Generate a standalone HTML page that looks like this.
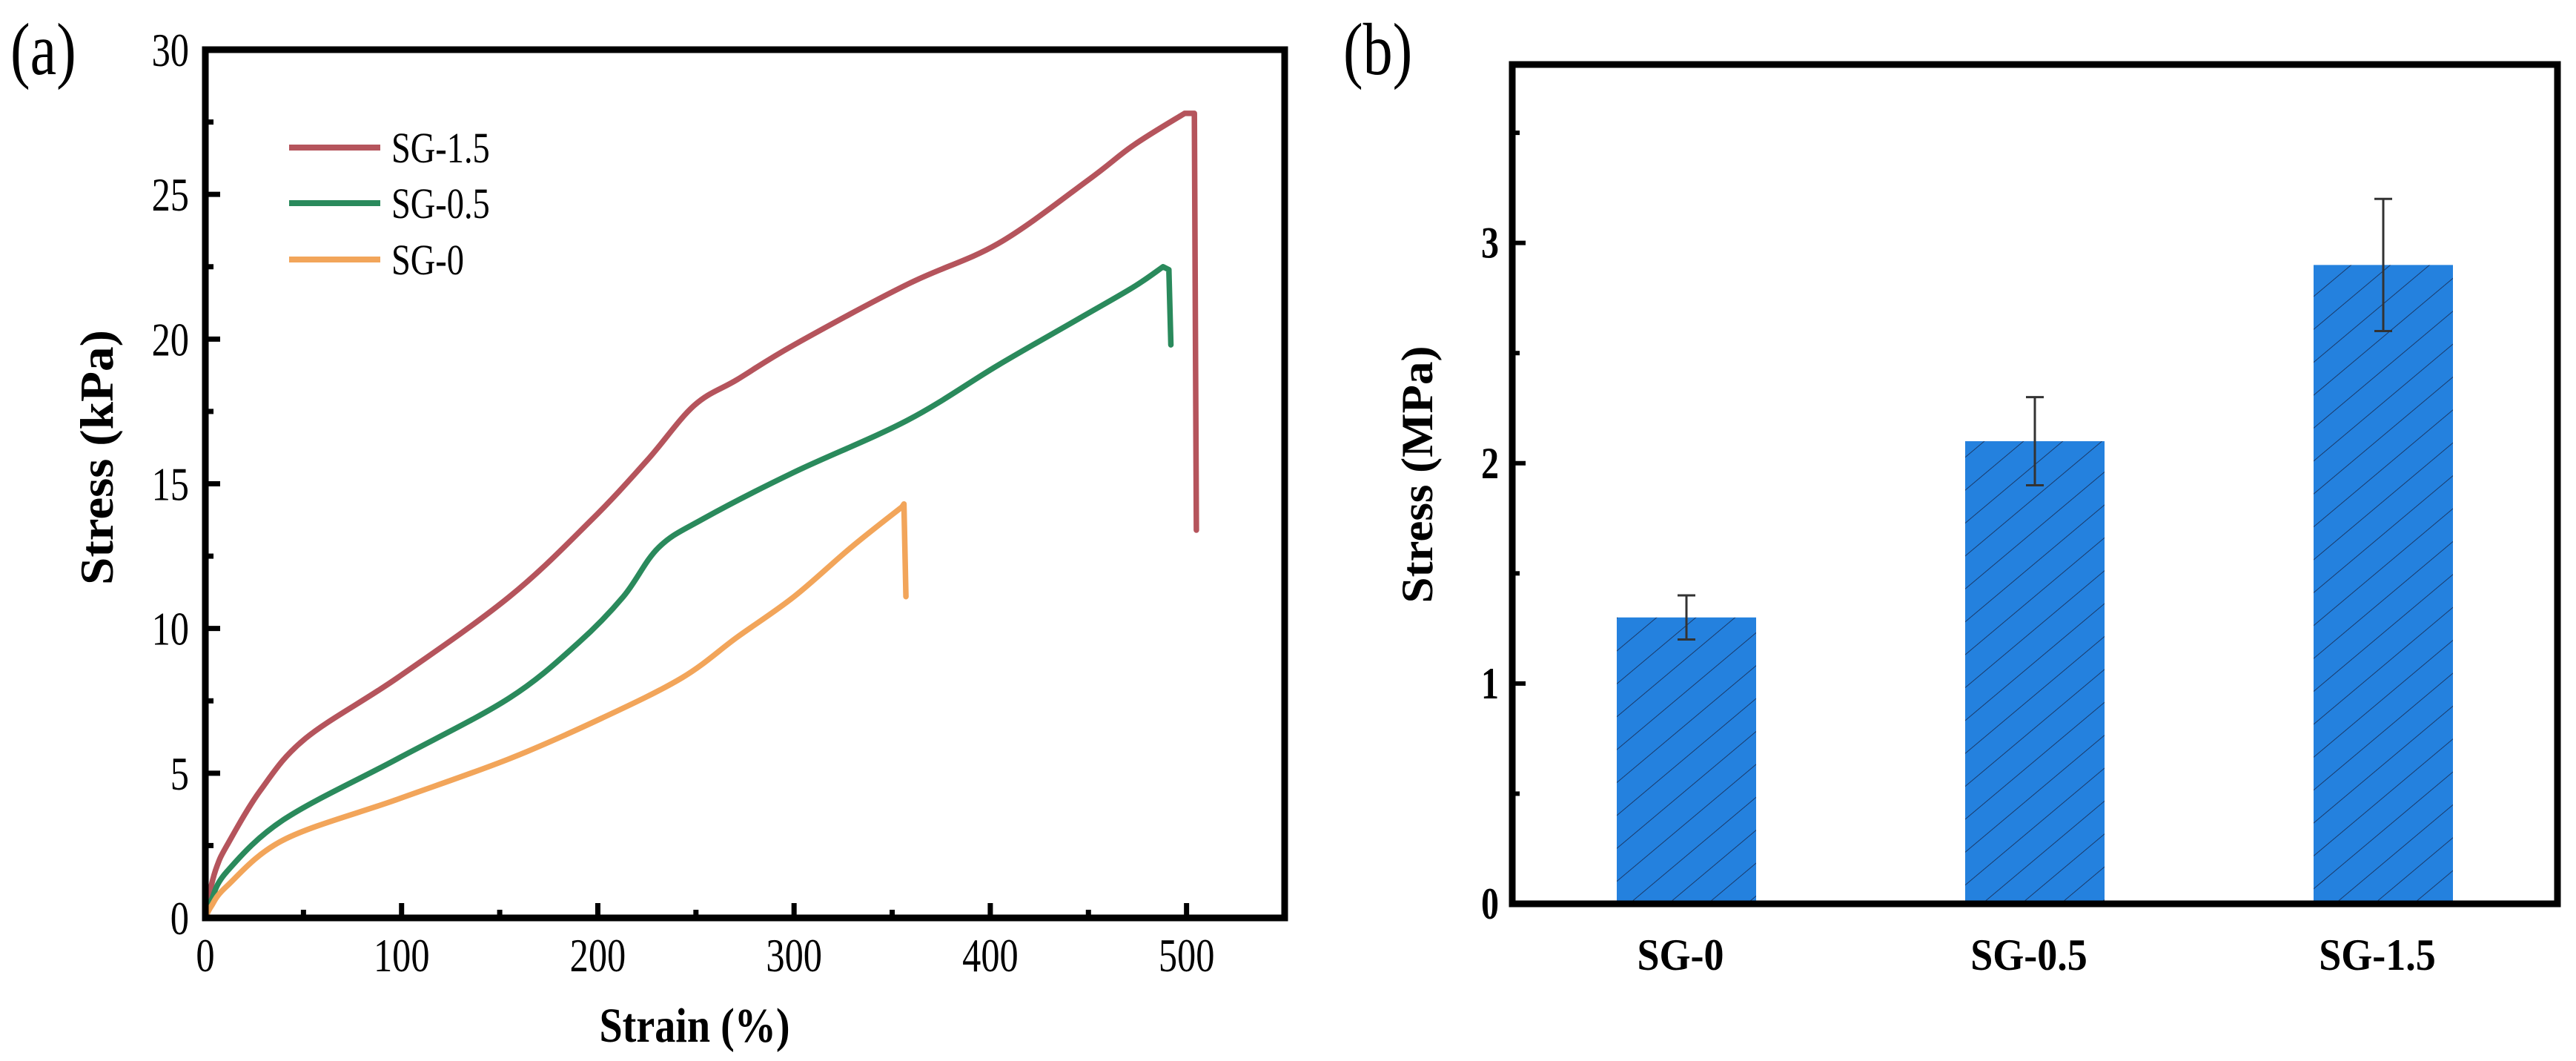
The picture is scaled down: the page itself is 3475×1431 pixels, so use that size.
<!DOCTYPE html>
<html><head><meta charset="utf-8">
<style>
html,body{margin:0;padding:0;background:#fff;}
svg{display:block;font-family:"Liberation Serif",serif;}
</style></head>
<body>
<svg id="fig" width="3475" height="1431" viewBox="0 0 3475 1431" xmlns="http://www.w3.org/2000/svg">
<defs>
<pattern id="hatch" patternUnits="userSpaceOnUse" width="34" height="34" patternTransform="rotate(-40)">
<rect width="34" height="34" fill="#2481de"/>
<line x1="0" y1="0" x2="34" y2="0" stroke="#1a3a6a" stroke-width="2"/>
</pattern>
</defs>
<g id="panelA"></g>
<g id="panelB"></g>
</svg>
<script>
// ---------- Panel (a) data ----------
const strain15 = [0, 3, 6, 11, 28, 51, 98, 155, 196, 225, 249, 271, 300, 358, 404, 450, 473, 499, 504, 505];
const stress15 = [0, 1.1, 1.8, 2.5, 4.4, 6.2, 8.3, 11.1, 13.7, 15.8, 17.7, 18.6, 19.8, 21.9, 23.3, 25.5, 26.7, 27.8, 27.8, 13.4];
const strain05 = [0, 3, 11, 40, 98, 155, 190, 213, 231, 254, 300, 358, 404, 445, 473, 488, 491, 492];
const stress05 = [0, 0.6, 1.6, 3.4, 5.5, 7.6, 9.5, 11.1, 12.8, 13.8, 15.4, 17.2, 19.1, 20.7, 21.8, 22.5, 22.4, 19.8];
const strain0 = [0, 3, 11, 40, 98, 155, 202, 243, 271, 300, 329, 355, 356, 357];
const stress0 = [0, 0.4, 1.1, 2.7, 4.1, 5.5, 6.9, 8.3, 9.7, 11.1, 12.8, 14.2, 14.3, 11.1];
const seriesNames = ["SG-1.5", "SG-0.5", "SG-0"];
const xTicksA = [0, 100, 200, 300, 400, 500];
const yTicksA = [0, 5, 10, 15, 20, 25, 30];
// ---------- Panel (b) data ----------
const categories = ["SG-0", "SG-0.5", "SG-1.5"];
const barValues = [1.3, 2.1, 2.9];
const errLow = [1.2, 1.9, 2.6];
const errHigh = [1.4, 2.3, 3.2];
const yTicksB = [0, 1, 2, 3];

const NS = "http://www.w3.org/2000/svg";
function mk(parent, tag, attrs) {
  const e = document.createElementNS(NS, tag);
  for (const k in attrs) e.setAttribute(k, attrs[k]);
  parent.appendChild(e);
  return e;
}
function txt(parent, x, y, s, size, weight, anchor, sx, rot) {
  const g = mk(parent, "g", {transform: `translate(${x},${y})` + (rot ? ` rotate(${rot})` : "") + ` scale(${sx},1)`});
  const t = mk(g, "text", {x: 0, y: 0, "font-size": size, "font-weight": weight, "text-anchor": anchor, fill: "#000"});
  t.textContent = s;
  return t;
}

// ---------- Panel (a) ----------
const A = document.getElementById("panelA");
const ax = {x0: 277, x1: 1733, y0: 1238, y1: 67, xmax: 550, ymax: 30};
const xa = v => ax.x0 + (ax.x1 - ax.x0) * v / ax.xmax;
const ya = v => ax.y0 - (ax.y0 - ax.y1) * v / ax.ymax;

function smoothPath(pts, nSharpEnd) {
  // Catmull-Rom for all but last nSharpEnd segments
  const n = pts.length;
  const smoothEnd = n - 1 - nSharpEnd;
  let d = "M" + pts[0][0].toFixed(1) + "," + pts[0][1].toFixed(1);
  for (let i = 0; i < n - 1; i++) {
    if (i >= smoothEnd) { d += "L" + pts[i + 1][0].toFixed(1) + "," + pts[i + 1][1].toFixed(1); continue; }
    const p0 = pts[Math.max(i - 1, 0)], p1 = pts[i], p2 = pts[i + 1], p3 = pts[Math.min(i + 2, smoothEnd)];
    const c1x = p1[0] + (p2[0] - p0[0]) / 6, c1y = p1[1] + (p2[1] - p0[1]) / 6;
    const c2x = p2[0] - (p3[0] - p1[0]) / 6, c2y = p2[1] - (p3[1] - p1[1]) / 6;
    d += `C${c1x.toFixed(1)},${c1y.toFixed(1)} ${c2x.toFixed(1)},${c2y.toFixed(1)} ${p2[0].toFixed(1)},${p2[1].toFixed(1)}`;
  }
  return d;
}

const colors = ["#b5545c", "#2a8a5c", "#f2a55a"];
const xsArr = [strain15, strain05, strain0];
const ysArr = [stress15, stress05, stress0];
const sharp = [2, 2, 2];
for (let s = 0; s < 3; s++) {
  const xs = xsArr[s], ys = ysArr[s];
  const pts = xs.map((x, i) => [xa(x), ya(ys[i])]);
  const p = mk(A, "path", {d: smoothPath(pts, sharp[s]), fill: "none", stroke: colors[s], "stroke-width": 7.5, "stroke-linejoin": "round", "stroke-linecap": "round"});
  
  
}
// frame
const frA = mk(A, "rect", {x: ax.x0, y: ax.y1, width: ax.x1 - ax.x0, height: ax.y0 - ax.y1, fill: "none", stroke: "#000", "stroke-width": 9});


for (let v = 0; v <= 550; v += 50) {
  const major = v % 100 === 0;
  const t = mk(A, "line", {x1: xa(v), x2: xa(v), y1: ax.y0, y2: ax.y0 - (major ? 20 : 11), stroke: "#000", "stroke-width": 7});
  
  
}
xTicksA.forEach(v => {
  const t = txt(A, xa(v), 1310, String(v), 63, "normal", "middle", 0.8, 0);
  
  
});
for (let v = 0; v <= 30; v += 2.5) {
  const major = v % 5 === 0;
  const t = mk(A, "line", {x1: ax.x0, x2: ax.x0 + (major ? 20 : 11), y1: ya(v), y2: ya(v), stroke: "#000", "stroke-width": 7});
  
  
}
yTicksA.forEach(v => {
  const t = txt(A, 255, ya(v) + 22, String(v), 63, "normal", "end", 0.8, 0);
  
  
});
const xtA = txt(A, 937, 1405, "Strain (%)", 66, "bold", "middle", 0.85, 0);


const ytA = txt(A, 152, 617, "Stress (kPa)", 64, "bold", "middle", 1.05, -90);


const legY = [199, 274, 350];
for (let s = 0; s < 3; s++) {
  const l = mk(A, "line", {x1: 390, x2: 513, y1: legY[s], y2: legY[s], stroke: colors[s], "stroke-width": 8});
  
  
  const t = txt(A, 528, legY[s] + 20, seriesNames[s], 58, "normal", "start", 0.8, 0);
  
  
}
const pa = txt(A, 14, 100, "(a)", 100, "normal", "start", 0.8, 0);



// ---------- Panel (b) ----------
const B = document.getElementById("panelB");
const bx = {x0: 2040, x1: 3450, y0: 1219, y1: 87, xmin: 0.5, xmax: 3.5, ymax: 3.81};
const xb = v => bx.x0 + (bx.x1 - bx.x0) * (v - bx.xmin) / (bx.xmax - bx.xmin);
const yb = v => bx.y0 - (bx.y0 - bx.y1) * v / bx.ymax;
const bw = 0.4;
categories.forEach((c, i) => {
  const cx = i + 1;
  const r = mk(B, "rect", {x: xb(cx - bw / 2), y: yb(barValues[i]), width: xb(cx + bw / 2) - xb(cx - bw / 2), height: yb(0) - yb(barValues[i]), fill: "url(#hatch)"});
  
  
  const e = mk(B, "path", {d: `M${xb(cx)},${yb(errLow[i])}V${yb(errHigh[i])}M${xb(cx) - 12},${yb(errLow[i])}h24M${xb(cx) - 12},${yb(errHigh[i])}h24`, stroke: "#333", "stroke-width": 3, fill: "none"});
  
  
  const t = txt(B, xb(cx) - 8, 1308, c, 60, "bold", "middle", 0.9, 0);
  
  
});
const frB = mk(B, "rect", {x: bx.x0, y: bx.y1, width: bx.x1 - bx.x0, height: bx.y0 - bx.y1, fill: "none", stroke: "#000", "stroke-width": 9});


for (let v = 0; v <= 3.5; v += 0.5) {
  const major = v % 1 === 0;
  const t = mk(B, "line", {x1: bx.x0, x2: bx.x0 + (major ? 18 : 10), y1: yb(v), y2: yb(v), stroke: "#000", "stroke-width": 6});
  
  
}
yTicksB.forEach(v => {
  const t = txt(B, 2022, yb(v) + 20, String(v), 60, "bold", "end", 0.8, 0);
  
  
});
const ytB = txt(B, 1932, 640, "Stress (MPa)", 60, "bold", "middle", 1.05, -90);


const pb = txt(B, 1812, 100, "(b)", 100, "normal", "start", 0.8, 0);


</script>
</body></html>
